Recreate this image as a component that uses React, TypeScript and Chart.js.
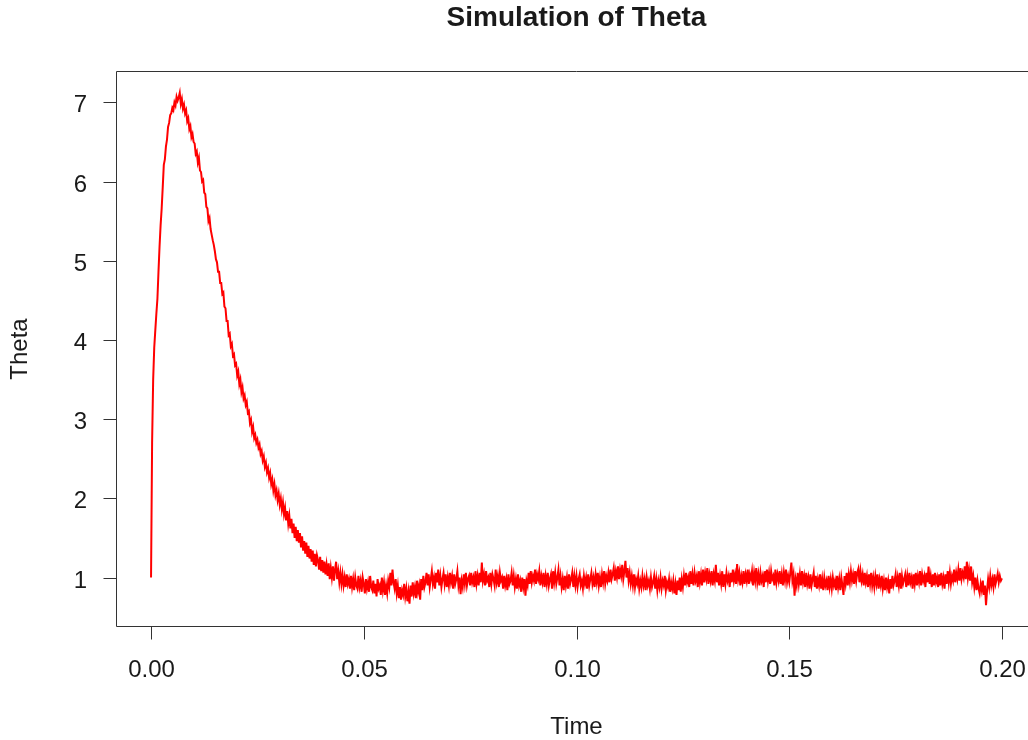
import React, { useEffect, useRef } from "react";
import { Chart, registerables } from "chart.js";

Chart.register(...registerables);

// Sampling step of the simulated path
const T_STEP = 0.00025;

// Theta, t = 0.000 .. 0.02475
const THETA_1 = [
  1.0, 2.7, 3.5, 3.9, 4.12, 4.33, 4.52, 4.86, 5.18, 5.45,
  5.66, 5.93, 6.21, 6.28, 6.44, 6.53, 6.69, 6.74, 6.84, 6.86,
  6.93, 6.9, 7.0, 6.96, 7.07, 7.02, 7.06, 7.12, 6.98, 7.04,
  6.92, 6.97, 6.86, 6.9, 6.76, 6.8, 6.66, 6.7, 6.56, 6.6,
  6.5, 6.48, 6.35, 6.38, 6.24, 6.3, 6.14, 6.12, 6.0, 6.02,
  5.86, 5.84, 5.68, 5.66, 5.5, 5.54, 5.4, 5.33, 5.26, 5.2,
  5.12, 5.02, 4.98, 4.86, 4.86, 4.72, 4.72, 4.58, 4.6, 4.42,
  4.4, 4.24, 4.24, 4.06, 4.08, 3.92, 3.95, 3.8, 3.82, 3.68,
  3.7, 3.55, 3.6, 3.44, 3.5, 3.34, 3.4, 3.26, 3.3, 3.18,
  3.22, 3.08, 3.1, 2.95, 2.99, 2.84, 2.9, 2.76, 2.8, 2.7,
];

// Theta, t = 0.025 .. 0.04975
const THETA_2 = [
  2.74, 2.64, 2.68, 2.56, 2.6, 2.48, 2.53, 2.4, 2.45, 2.33,
  2.38, 2.26, 2.32, 2.18, 2.24, 2.1, 2.18, 2.04, 2.1, 1.98,
  2.06, 1.92, 2.0, 1.86, 1.95, 1.8, 1.88, 1.72, 1.84, 1.68,
  1.78, 1.62, 1.74, 1.56, 1.68, 1.5, 1.64, 1.46, 1.6, 1.44,
  1.56, 1.38, 1.52, 1.34, 1.46, 1.3, 1.44, 1.26, 1.4, 1.24,
  1.36, 1.2, 1.34, 1.16, 1.3, 1.14, 1.28, 1.22, 1.1, 1.26,
  1.08, 1.22, 1.06, 1.2, 1.04, 1.16, 1.02, 1.18, 0.98, 1.12,
  1.0, 1.14, 0.96, 1.1, 1.2, 0.98, 1.08, 0.94, 1.06, 0.92,
  1.04, 0.9, 1.0, 0.88, 1.04, 0.92, 0.98, 0.86, 1.02, 0.88,
  0.98, 0.84, 1.0, 0.9, 0.86, 1.02, 0.88, 0.96, 0.82, 1.0,
];

// Theta, t = 0.050 .. 0.07475
const THETA_3 = [
  0.92, 0.8, 0.98, 0.86, 0.94, 0.82, 1.02, 0.88, 0.84, 0.96,
  0.8, 0.92, 0.76, 0.98, 0.86, 0.9, 0.78, 1.0, 0.84, 0.94,
  0.78, 0.9, 0.8, 0.96, 0.88, 1.06, 0.9, 1.1, 0.94, 0.86,
  0.98, 0.8, 0.9, 0.74, 0.88, 0.72, 0.84, 0.78, 0.92, 0.76,
  0.86, 0.7, 0.82, 0.67, 0.9, 0.76, 0.94, 0.8, 0.88, 0.74,
  0.96, 0.82, 0.9, 0.72, 0.98, 0.84, 1.02, 0.88, 0.94, 1.06,
  0.9, 1.04, 0.88, 0.98, 1.08, 0.92, 1.0, 0.86, 1.06, 0.94,
  1.1, 0.9, 1.02, 0.88, 0.98, 1.06, 0.92, 1.04, 0.88, 1.0,
  0.9, 1.06, 0.94, 1.02, 0.86, 1.04, 0.92, 0.98, 1.08, 0.9,
  1.0, 0.79, 0.96, 0.88, 1.04, 0.92, 1.06, 0.9, 0.98, 1.02,
];

// Theta, t = 0.075 .. 0.09975
const THETA_4 = [
  0.9, 1.06, 0.94, 1.0, 0.88, 1.08, 0.92, 1.02, 0.9, 1.06,
  0.94, 1.19, 0.96, 1.04, 0.9, 1.08, 0.96, 1.0, 0.88, 1.06,
  0.92, 1.04, 0.98, 0.9, 1.1, 0.94, 1.02, 0.88, 1.06, 0.96,
  1.0, 0.86, 1.02, 0.9, 0.98, 0.84, 1.04, 0.92, 0.96, 1.06,
  0.9, 1.02, 0.88, 0.98, 0.86, 1.04, 0.9, 0.96, 0.82, 1.0,
  0.88, 0.98, 0.77, 0.96, 0.9, 1.06, 0.92, 1.08, 0.94, 1.02,
  0.96, 1.1, 0.92, 1.04, 0.98, 1.08, 0.9, 1.02, 0.94, 1.06,
  0.88, 1.02, 0.92, 1.06, 0.9, 0.98, 1.04, 0.86, 1.08, 0.94,
  1.06, 0.92, 1.0, 1.1, 0.9, 1.02, 0.88, 0.98, 0.84, 1.02,
  0.9, 1.0, 0.86, 1.04, 0.92, 0.98, 1.06, 0.88, 1.02, 0.9,
];

// Theta, t = 0.100 .. 0.12475
const THETA_5 = [
  1.02, 0.88, 0.98, 1.04, 0.9, 0.96, 0.86, 1.02, 0.92, 1.0,
  0.86, 1.04, 0.9, 0.98, 1.06, 0.92, 1.0, 0.88, 1.04, 0.94,
  1.06, 0.9, 1.0, 0.88, 1.04, 0.94, 1.08, 0.92, 1.02, 0.96,
  1.06, 0.94, 1.1, 0.98, 1.04, 1.12, 0.96, 1.08, 1.0, 1.14,
  0.98, 1.1, 1.02, 1.16, 0.98, 1.08, 1.21, 1.0, 1.12, 0.96,
  1.06, 0.92, 1.02, 0.9, 1.04, 0.88, 0.98, 0.92, 1.02, 0.86,
  0.96, 0.88, 1.02, 0.9, 0.98, 0.84, 1.0, 0.9, 0.96, 0.86,
  1.0, 0.88, 0.94, 1.02, 0.86, 0.98, 0.84, 0.96, 0.88, 1.0,
  0.86, 0.96, 0.9, 1.02, 0.84, 0.94, 0.88, 0.98, 0.82, 0.94,
  0.86, 0.96, 0.8, 0.92, 0.78, 0.96, 0.84, 1.0, 0.82, 0.98,
];

// Theta, t = 0.125 .. 0.14975
const THETA_6 = [
  0.88, 1.02, 0.9, 1.06, 0.94, 1.0, 0.88, 1.08, 0.92, 1.04,
  0.9, 1.06, 0.96, 1.02, 0.88, 1.08, 0.94, 1.04, 0.9, 1.1,
  0.94, 1.06, 0.98, 1.12, 0.92, 1.04, 0.96, 1.08, 0.9, 1.04,
  0.96, 1.16, 0.94, 1.06, 0.9, 1.02, 0.92, 1.08, 0.88, 1.04,
  0.92, 1.06, 0.96, 1.02, 0.88, 1.06, 0.94, 1.1, 0.96, 1.04,
  0.92, 1.17, 0.98, 1.06, 0.9, 1.02, 0.94, 1.08, 0.92, 1.04,
  0.96, 1.1, 0.92, 1.04, 0.98, 1.08, 0.9, 1.06, 0.96, 1.12,
  0.94, 1.04, 0.9, 1.06, 0.96, 1.02, 0.88, 1.08, 0.94, 1.1,
  0.96, 1.06, 0.92, 1.08, 0.98, 1.02, 0.9, 1.1, 0.94, 1.04,
  0.96, 1.08, 0.92, 1.04, 0.9, 1.06, 0.96, 1.1, 0.94, 1.02,
];

// Theta, t = 0.150 .. 0.17475
const THETA_7 = [
  0.94, 1.06, 1.19, 0.96, 1.04, 0.77, 0.98, 0.9, 1.06, 0.92,
  1.04, 0.9, 1.08, 0.94, 1.02, 0.88, 1.06, 0.92, 1.0, 0.86,
  1.04, 0.9, 0.98, 1.06, 0.88, 1.02, 0.86, 0.98, 0.9, 1.04,
  0.86, 0.98, 0.84, 1.0, 0.9, 0.96, 0.84, 1.02, 0.88, 0.98,
  0.86, 1.0, 0.9, 0.96, 0.84, 1.02, 0.88, 0.98, 0.84, 1.0,
  0.9, 0.78, 1.02, 0.92, 1.06, 0.9, 1.04, 0.94, 1.08, 0.96,
  1.04, 0.92, 1.08, 0.96, 1.06, 1.11, 0.94, 1.08, 0.96, 1.04,
  0.9, 1.06, 0.94, 1.02, 0.88, 1.04, 0.92, 1.06, 0.9, 1.0,
  0.88, 1.02, 0.92, 1.04, 0.86, 0.98, 0.9, 1.02, 0.86, 0.96,
  0.84, 1.0, 0.88, 0.96, 0.8, 0.98, 0.86, 1.02, 0.9, 0.96,
];

// Theta, t = 0.175 .. 0.200
const THETA_8 = [
  1.04, 0.88, 1.0, 0.9, 1.06, 0.86, 1.02, 0.92, 0.98, 1.04,
  0.88, 1.02, 0.9, 1.06, 0.94, 1.0, 0.86, 1.04, 0.92, 1.06,
  0.9, 1.02, 0.94, 1.08, 0.9, 1.04, 0.96, 1.02, 0.88, 1.06,
  0.94, 1.14, 0.92, 1.02, 0.88, 1.04, 0.9, 1.06, 0.94, 1.0,
  0.88, 1.04, 0.9, 1.06, 0.92, 1.0, 0.86, 1.04, 0.92, 1.08,
  0.94, 1.06, 0.92, 1.02, 0.96, 1.1, 0.94, 1.06, 0.98, 1.1,
  0.96, 1.12, 0.98, 1.06, 1.0, 1.14, 0.98, 1.2, 1.0, 1.1,
  0.96, 1.14, 0.94, 1.02, 0.88, 1.0, 0.84, 0.96, 0.86, 0.8,
  0.92, 0.84, 0.96, 0.78, 0.9, 0.65, 0.84, 0.98, 0.88, 1.02,
  0.9, 0.98, 0.88, 1.04, 0.92, 0.98, 1.05, 0.94, 1.02, 0.96,
  0.99,
];

const SEGMENT_STARTS = [0, 0.025, 0.05, 0.075, 0.1, 0.125, 0.15, 0.175];
const SEGMENTS = [THETA_1, THETA_2, THETA_3, THETA_4, THETA_5, THETA_6, THETA_7, THETA_8];

const X_TICKS = [0, 0.05, 0.1, 0.15, 0.2];
const Y_TICKS = [1, 2, 3, 4, 5, 6, 7];

const X_MIN = -0.008;
const X_MAX = 0.208;
const Y_MIN = 0.388;
const Y_MAX = 7.383;

const TITLE = "Simulation of Theta";
const X_TITLE = "Time";
const Y_TITLE = "Theta";

const FONT = "'Liberation Sans', Arial, sans-serif";
const INK = "#1a1a1a";

const CANVAS_W = 1060;
const CANVAS_H = 740;

function buildPoints() {
  const pts: { x: number; y: number }[] = [];
  SEGMENTS.forEach((seg, s) => {
    seg.forEach((v, i) => {
      pts.push({ x: +(SEGMENT_STARTS[s] + i * T_STEP).toFixed(5), y: v });
    });
  });
  return pts;
}

// Base-graphics style frame: box, outward ticks, labels and titles
const framePlugin = {
  id: "baseFrame",
  afterDraw(chart: any) {
    const { ctx, chartArea, scales } = chart;
    const { left, top, right, bottom } = chartArea;
    const xs = scales.x;
    const ys = scales.y;
    const l = Math.round(left) - 0.5;
    const t = Math.round(top) - 0.5;
    const b = Math.round(bottom) + 0.5;
    const r = Math.round(right) + 0.5;
    ctx.save();
    ctx.strokeStyle = "#333333";
    ctx.lineWidth = 1;
    ctx.beginPath();
    ctx.moveTo(r, t);
    ctx.lineTo(l, t);
    ctx.lineTo(l, b);
    ctx.lineTo(r, b);
    ctx.stroke();

    ctx.fillStyle = INK;
    ctx.font = `24px ${FONT}`;

    // x axis
    ctx.textAlign = "center";
    ctx.textBaseline = "alphabetic";
    X_TICKS.forEach((tv) => {
      const px = Math.round(xs.getPixelForValue(tv)) + 0.5;
      ctx.beginPath();
      ctx.moveTo(px, b);
      ctx.lineTo(px, b + 13);
      ctx.stroke();
      ctx.fillText(tv.toFixed(2), px, 677);
    });

    // y axis
    ctx.textAlign = "right";
    Y_TICKS.forEach((v) => {
      const py = Math.round(ys.getPixelForValue(v)) + 0.5;
      ctx.beginPath();
      ctx.moveTo(l, py);
      ctx.lineTo(l - 13, py);
      ctx.stroke();
      ctx.fillText(String(v), 87, py + 9);
    });

    // titles
    ctx.textAlign = "center";
    ctx.fillText(X_TITLE, (left + right) / 2, 734);

    ctx.save();
    ctx.translate(27, (top + bottom) / 2);
    ctx.rotate(-Math.PI / 2);
    ctx.fillText(Y_TITLE, 0, 0);
    ctx.restore();

    ctx.font = `bold 28px ${FONT}`;
    ctx.fillText(TITLE, (left + right) / 2, 26);
    ctx.restore();
  },
};

export default function App() {
  const canvasRef = useRef<HTMLCanvasElement | null>(null);

  useEffect(() => {
    if (!canvasRef.current) return;
    const chart = new Chart(canvasRef.current, {
      type: "line",
      data: {
        datasets: [
          {
            data: buildPoints(),
            borderColor: "#ff0000",
            borderWidth: 2,
            pointRadius: 0,
            fill: false,
            tension: 0,
          },
        ],
      },
      options: {
        animation: false,
        responsive: false,
        devicePixelRatio: 1,
        layout: {
          padding: { left: 117, top: 72, right: CANVAS_W - 1036, bottom: CANVAS_H - 626 },
        },
        scales: {
          x: { type: "linear", min: X_MIN, max: X_MAX, display: false },
          y: { type: "linear", min: Y_MIN, max: Y_MAX, display: false },
        },
        plugins: {
          legend: { display: false },
          tooltip: { enabled: false },
          title: { display: false },
        },
      },
      plugins: [framePlugin],
    });
    return () => chart.destroy();
  }, []);

  return (
    <div
      style={{
        position: "fixed",
        left: 0,
        top: 0,
        width: 1028,
        height: 740,
        overflow: "hidden",
        background: "#ffffff",
      }}
    >
      <canvas
        ref={canvasRef}
        width={CANVAS_W}
        height={CANVAS_H}
        style={{ width: CANVAS_W, height: CANVAS_H, display: "block" }}
      />
    </div>
  );
}
